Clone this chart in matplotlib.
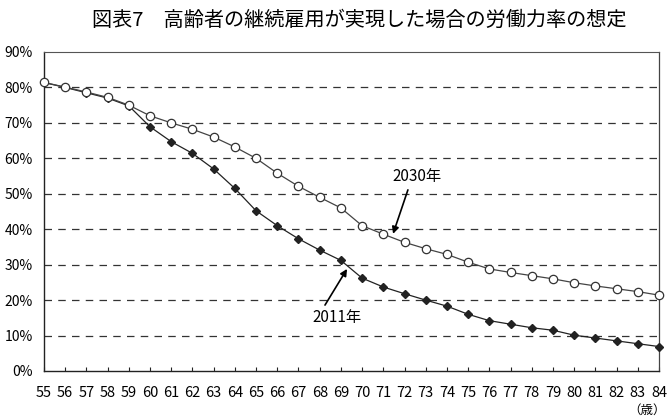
import matplotlib
matplotlib.use("Agg")
import matplotlib.pyplot as plt
import numpy as np

plt.rcParams['font.family'] = ['Noto Sans CJK JP', 'DejaVu Sans']

ages = list(range(55, 85))
rate_2030 = [81.4, 80.1, 78.7, 77.2, 75.0, 72.0, 70.0, 68.2, 66.0, 63.2,
             60.0, 55.8, 52.1, 49.0, 46.0, 41.0, 38.6, 36.3, 34.5, 32.9,
             30.7, 28.8, 27.8, 26.9, 26.0, 24.9, 24.0, 23.2, 22.4, 21.4]
rate_2011 = [81.4, 80.0, 78.5, 77.0, 74.8, 68.9, 64.7, 61.4, 57.0, 51.5,
             45.2, 41.0, 37.3, 34.1, 31.2, 26.2, 23.7, 21.8, 20.0, 18.3,
             16.0, 14.2, 13.2, 12.2, 11.5, 10.1, 9.3, 8.5, 7.7, 6.9]
yticks = [0, 10, 20, 30, 40, 50, 60, 70, 80, 90]
ytick_labels = [f"{v}%" for v in yticks]
title = "図表7　高齢者の継続雇用が実現した場合の労働力率の想定"

fig = plt.figure(figsize=(6.68, 4.19), dpi=100)
ax = fig.add_axes([44/668, 1-371/419, (659-44)/668, (371-52)/419])

for v in yticks[1:-1]:
    ax.axhline(v, color='#333333', lw=0.9, ls=(0, (6, 5)), zorder=1)

ax.plot(ages, rate_2011, color='#222222', lw=0.9, marker='D', ms=4.5,
        mfc='#222222', mec='#222222', clip_on=False, zorder=3)
ax.plot(ages, rate_2030, color='#444444', lw=0.9, marker='o', ms=6,
        mfc='white', mec='#333333', mew=0.9, clip_on=False, zorder=4)

ax.set_xlim(55, 84)
ax.set_ylim(0, 90)
ax.set_xticks(ages)
ax.set_xticklabels([str(a) for a in ages], fontsize=10.5)
ax.set_yticks(yticks)
ax.set_yticklabels(ytick_labels, fontsize=10)
ax.tick_params(axis='x', direction='in', length=3, pad=11, color='#222222')
ax.tick_params(axis='y', length=0, pad=8)
for s in ['left', 'bottom']:
    ax.spines[s].set_color('#222222')
    ax.spines[s].set_linewidth(1.0)
ax.spines['right'].set_color('#444444')
ax.spines['right'].set_linewidth(0.9)
ax.spines['top'].set_color('#555555')
ax.spines['top'].set_linewidth(0.8)

arrow = dict(arrowstyle='-|>', color='black', lw=1.2, mutation_scale=10,
             shrinkA=0, shrinkB=0)
ax.annotate("", xy=(71.46, 38.7), xytext=(72.16, 51.1), arrowprops=arrow)
ax.text(72.6, 54.8, "2030年", ha='center', va='center', fontsize=11)
ax.annotate("", xy=(69.29, 28.8), xytext=(68.25, 18.6), arrowprops=arrow)
ax.text(68.8, 15.0, "2011年", ha='center', va='center', fontsize=11)

fig.text(359/668, 1-20/419, title, ha='center', va='center', fontsize=14.5)
fig.text(666/668, 1-410/419, "（歳）", ha='right', va='center', fontsize=9)

fig.savefig("out.png", dpi=100)
